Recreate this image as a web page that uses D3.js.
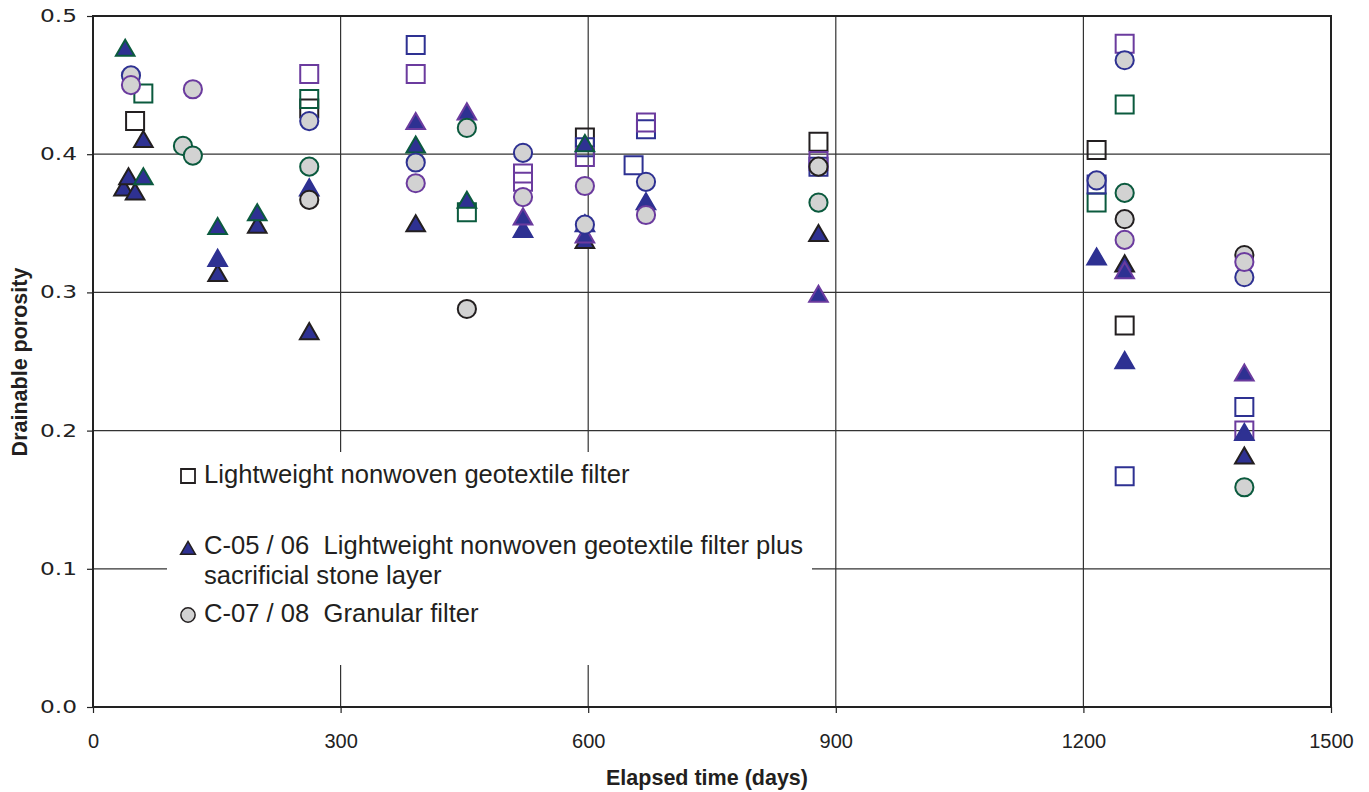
<!DOCTYPE html>
<html>
<head>
<meta charset="utf-8">
<script src="https://cdn.jsdelivr.net/npm/d3@7"></script>
<style>
  body { margin: 0; background: #fff; }
</style>
</head>
<body>
<div class="canvas"></div>
<script>
// ---- data (elapsed days, drainable porosity) ----
const xTicks = [0, 300, 600, 900, 1200, 1500];
const yTicks = [0.0, 0.1, 0.2, 0.3, 0.4, 0.5];

// open squares - lightweight nonwoven geotextile filter
const sqBlack  = [[51,0.424],[262,0.433],[596,0.412],[879,0.409],[1216,0.403],[1250,0.276]];
const sqGreen  = [[61,0.444],[262,0.440],[453,0.358],[1216,0.365],[1250,0.436]];
const sqBlue   = [[391,0.479],[596,0.405],[655,0.392],[670,0.418],[879,0.391],[1216,0.378],[1250,0.167],[1395,0.217]];
const sqPurple = [[262,0.458],[391,0.458],[521,0.386],[521,0.380],[596,0.398],[670,0.423],[879,0.395],[1250,0.480],[1395,0.200]];

// filled triangles - C-05 / 06
const triBlack  = [[37,0.376],[43,0.384],[51,0.373],[61,0.411],[151,0.314],[199,0.349],[262,0.272],[391,0.350],[596,0.338],[879,0.343],[1250,0.321],[1395,0.182]];
const triGreen  = [[39,0.477],[61,0.384],[151,0.348],[199,0.358],[391,0.407],[453,0.367],[596,0.408]];
const triBlue   = [[151,0.325],[262,0.376],[521,0.346],[596,0.350],[670,0.366],[1216,0.326],[1250,0.251],[1395,0.199]];
const triPurple = [[391,0.424],[453,0.431],[521,0.355],[596,0.342],[879,0.299],[1250,0.316],[1395,0.242]];

// grey circles - C-07 / 08
const ciBlack  = [[262,0.367],[453,0.288],[879,0.391],[1250,0.353],[1395,0.327]];
const ciGreen  = [[109,0.406],[121,0.399],[262,0.391],[453,0.419],[879,0.365],[1250,0.372],[1395,0.159]];
const ciBlue   = [[46,0.457],[262,0.424],[391,0.394],[521,0.401],[596,0.349],[670,0.380],[1216,0.381],[1250,0.468],[1395,0.311]];
const ciPurple = [[46,0.450],[121,0.447],[391,0.379],[521,0.369],[596,0.377],[670,0.356],[1250,0.338],[1395,0.322]];

const legendLabels = [
  'Lightweight nonwoven geotextile filter',
  'C-05 / 06  Lightweight nonwoven geotextile filter plus',
  'sacrificial stone layer',
  'C-07 / 08  Granular filter'
];

// ---- layout ----
const margin = {top: 16, right: 38, bottom: 85, left: 93};
const W = 1369, H = 792;
const width = W - margin.left - margin.right;
const height = H - margin.top - margin.bottom;

const col = {black: '#231f20', green: '#0b5a3e', blue: '#2e3192', purple: '#6b3b9e'};
const triFill = '#2e3192', ciFill = '#d2d2d2';

const svg = d3.select('.canvas').append('svg')
    .attr('width', W).attr('height', H)
    .style('font-family', '"Liberation Sans", Arial, sans-serif');

const graph = svg.append('g').attr('transform', `translate(${margin.left},${margin.top})`);

const x = d3.scaleLinear().domain([0, 1500]).range([0, width]);
const y = d3.scaleLinear().domain([0, 0.5]).range([height, 0]);

// gridlines
graph.append('g')
    .selectAll('line.vg').data(xTicks.slice(1, -1)).enter().append('line')
    .attr('x1', d => x(d)).attr('x2', d => x(d))
    .attr('y1', 0).attr('y2', height)
    .attr('stroke', '#333').attr('stroke-width', 1.2);
graph.append('g')
    .selectAll('line.hg').data(yTicks.slice(1, -1)).enter().append('line')
    .attr('x1', 0).attr('x2', width)
    .attr('y1', d => y(d)).attr('y2', d => y(d))
    .attr('stroke', '#333').attr('stroke-width', 1.2);

// axes
const yAxis = graph.append('g')
    .call(d3.axisLeft(y).tickValues(yTicks).tickFormat(d3.format('.1f')).tickSize(6));
yAxis.select('.domain').remove();
yAxis.selectAll('line').attr('stroke', '#222').attr('stroke-width', 1.2);
yAxis.selectAll('text')
    .attr('x', -16)
    .attr('font-family', '"DejaVu Sans", sans-serif')
    .attr('font-size', 17)
    .attr('fill', '#222')
    .attr('textLength', 37).attr('lengthAdjust', 'spacingAndGlyphs');

const xAxis = graph.append('g').attr('transform', `translate(0,${height})`)
    .call(d3.axisBottom(x).tickValues(xTicks).tickFormat(d3.format('d')).tickSize(6));
xAxis.select('.domain').remove();
xAxis.selectAll('line').attr('stroke', '#222').attr('stroke-width', 1.2);
xAxis.selectAll('text')
    .attr('y', 27)
    .attr('font-family', '"Liberation Sans", Arial, sans-serif')
    .attr('font-size', 20)
    .attr('fill', '#222');

// frame
graph.append('rect')
    .attr('width', width).attr('height', height)
    .attr('fill', 'none').attr('stroke', '#222').attr('stroke-width', 2);

// markers (triangles nudged so their box, not centroid, sits on the point)
const sym = (type, size) => d3.symbol().type(type).size(size)();
const triNudge = Math.sqrt(150 / (Math.sqrt(3) * 3)) / 2;
const series = [
  {data: sqBlack,  shape: sym(d3.symbolSquare, 324), fill: 'none', stroke: col.black},
  {data: sqGreen,  shape: sym(d3.symbolSquare, 324), fill: 'none', stroke: col.green},
  {data: sqBlue,   shape: sym(d3.symbolSquare, 324), fill: 'none', stroke: col.blue},
  {data: sqPurple, shape: sym(d3.symbolSquare, 324), fill: 'none', stroke: col.purple},
  {data: triBlack,  shape: sym(d3.symbolTriangle, 150), fill: triFill, stroke: col.black, dy: triNudge},
  {data: triGreen,  shape: sym(d3.symbolTriangle, 150), fill: triFill, stroke: col.green, dy: triNudge},
  {data: triBlue,   shape: sym(d3.symbolTriangle, 150), fill: triFill, stroke: col.blue, dy: triNudge},
  {data: triPurple, shape: sym(d3.symbolTriangle, 150), fill: triFill, stroke: col.purple, dy: triNudge},
  {data: ciBlack,  shape: sym(d3.symbolCircle, 260), fill: ciFill, stroke: col.black},
  {data: ciGreen,  shape: sym(d3.symbolCircle, 260), fill: ciFill, stroke: col.green},
  {data: ciBlue,   shape: sym(d3.symbolCircle, 260), fill: ciFill, stroke: col.blue},
  {data: ciPurple, shape: sym(d3.symbolCircle, 260), fill: ciFill, stroke: col.purple}
];

series.forEach(s => {
  const dy = s.dy || 0;
  graph.append('g').selectAll('path').data(s.data).enter().append('path')
      .attr('d', s.shape)
      .attr('transform', d => `translate(${x(d[0])},${y(d[1]) + dy})`)
      .attr('fill', s.fill)
      .attr('stroke', s.stroke)
      .attr('stroke-width', 2);
});

// legend (white box hides gridlines behind it)
const legend = svg.append('g');
legend.append('rect')
    .attr('x', 167).attr('y', 452).attr('width', 645).attr('height', 213)
    .attr('fill', '#fff');

legend.append('path').attr('d', sym(d3.symbolSquare, 196))
    .attr('transform', 'translate(188,476)')
    .attr('fill', 'none').attr('stroke', col.black).attr('stroke-width', 1.8);
legend.append('path').attr('d', sym(d3.symbolTriangle, 95))
    .attr('transform', 'translate(188,550)')
    .attr('fill', triFill).attr('stroke', col.black).attr('stroke-width', 1.5);
legend.append('path').attr('d', sym(d3.symbolCircle, 160))
    .attr('transform', 'translate(188,615)')
    .attr('fill', ciFill).attr('stroke', col.black).attr('stroke-width', 1.5);

const legendY = [483, 554, 584, 622];
legend.selectAll('text').data(legendLabels).enter().append('text')
    .attr('x', 204)
    .attr('y', (d, i) => legendY[i])
    .attr('font-size', 25.6)
    .attr('fill', '#231f20')
    .style('white-space', 'pre')
    .text(d => d);

// axis titles
svg.append('text')
    .attr('transform', 'translate(27,362) rotate(-90)')
    .attr('text-anchor', 'middle')
    .attr('font-weight', 'bold')
    .attr('font-size', 21.5)
    .attr('fill', '#231f20')
    .text('Drainable porosity');

svg.append('text')
    .attr('x', 707).attr('y', 785)
    .attr('text-anchor', 'middle')
    .attr('font-weight', 'bold')
    .attr('font-size', 21.5)
    .attr('fill', '#231f20')
    .text('Elapsed time (days)');
</script>
</body>
</html>
